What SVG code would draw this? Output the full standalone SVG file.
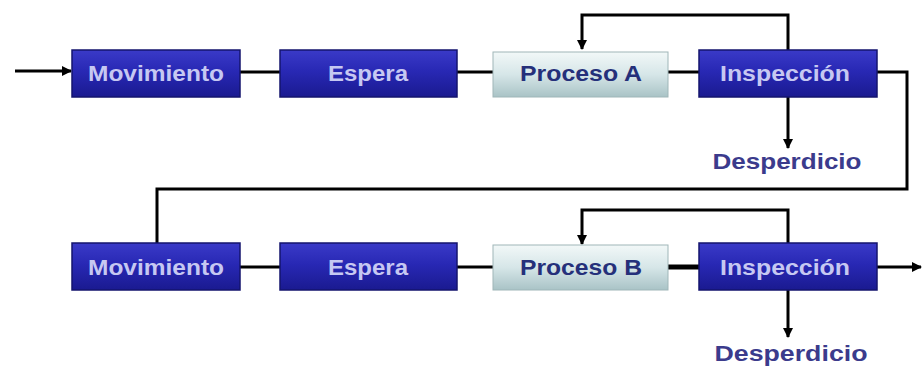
<svg xmlns="http://www.w3.org/2000/svg" width="922" height="370" viewBox="0 0 922 370">
<defs>
<linearGradient id="blue" x1="0" y1="0" x2="0" y2="1">
<stop offset="0" stop-color="#3a3ac8"/>
<stop offset="0.45" stop-color="#2828b4"/>
<stop offset="1" stop-color="#1a1a90"/>
</linearGradient>
<linearGradient id="light" x1="0" y1="0" x2="0" y2="1">
<stop offset="0" stop-color="#f2f8f8"/>
<stop offset="0.5" stop-color="#d6e6e8"/>
<stop offset="1" stop-color="#a9c3c6"/>
</linearGradient>
<marker id="arr" viewBox="0 0 10 10" refX="9" refY="5" markerWidth="10" markerHeight="10" markerUnits="userSpaceOnUse" orient="auto">
<path d="M0,0 L10,5 L0,10 z" fill="#000"/>
</marker>
<style>
.bb{fill:url(#blue);stroke:#14146e;stroke-width:1.5}
.lb{fill:url(#light);stroke:#9fb6b8;stroke-width:1}
.tb{font-family:"Liberation Sans",Arial,sans-serif;font-weight:bold;font-size:22px;fill:#c6c8f2;text-anchor:middle}
.tl{font-family:"Liberation Sans",Arial,sans-serif;font-weight:bold;font-size:22px;fill:#25307a;text-anchor:middle}
.tw{font-family:"Liberation Sans",Arial,sans-serif;font-weight:bold;font-size:22px;fill:#3b3b8c;text-anchor:middle}
.ln{fill:none;stroke:#000;stroke-width:3}
</style>
</defs>
<g id="connectors">
<path class="ln" d="M15,71 H71" marker-end="url(#arr)"/>
<path class="ln" d="M240,72 H280"/>
<path class="ln" d="M457,72 H493"/>
<path class="ln" d="M668,72 H699"/>
<path class="ln" d="M788,50 V15 H582 V49" marker-end="url(#arr)"/>
<path class="ln" d="M788,97 V148" marker-end="url(#arr)"/>
<path class="ln" d="M877,72 H907 V189 H157 V243"/>
<path class="ln" d="M240,267 H280"/>
<path class="ln" d="M457,267 H493"/>
<path class="ln" d="M668,267 H699" style="stroke-width:5"/>
<path class="ln" d="M788,243 V210 H582 V244" marker-end="url(#arr)"/>
<path class="ln" d="M877,267 H921" marker-end="url(#arr)"/>
<path class="ln" d="M788,290 V337" marker-end="url(#arr)"/>
</g>
<g id="mov1"><rect class="bb" x="72" y="50" width="168" height="47"/><text class="tb" x="156" y="81" textLength="136" lengthAdjust="spacingAndGlyphs">Movimiento</text></g>
<g id="esp1"><rect class="bb" x="280" y="50" width="177" height="47"/><text class="tb" x="368" y="81" textLength="80" lengthAdjust="spacingAndGlyphs">Espera</text></g>
<g id="procA"><rect class="lb" x="493" y="52" width="175" height="45"/><text class="tl" x="581" y="81" textLength="122" lengthAdjust="spacingAndGlyphs">Proceso A</text></g>
<g id="insp1"><rect class="bb" x="699" y="50" width="178" height="47"/><text class="tb" x="785" y="81" textLength="130" lengthAdjust="spacingAndGlyphs">Inspección</text></g>
<g id="desp1"><text class="tw" x="787" y="169" textLength="149" lengthAdjust="spacingAndGlyphs">Desperdicio</text></g>
<g id="mov2"><rect class="bb" x="72" y="243" width="168" height="47"/><text class="tb" x="156" y="275" textLength="136" lengthAdjust="spacingAndGlyphs">Movimiento</text></g>
<g id="esp2"><rect class="bb" x="280" y="243" width="177" height="47"/><text class="tb" x="368" y="275" textLength="80" lengthAdjust="spacingAndGlyphs">Espera</text></g>
<g id="procB"><rect class="lb" x="493" y="245" width="175" height="45"/><text class="tl" x="581" y="275" textLength="122" lengthAdjust="spacingAndGlyphs">Proceso B</text></g>
<g id="insp2"><rect class="bb" x="699" y="243" width="178" height="47"/><text class="tb" x="785" y="275" textLength="130" lengthAdjust="spacingAndGlyphs">Inspección</text></g>
<g id="desp2"><text class="tw" x="791" y="361" textLength="153" lengthAdjust="spacingAndGlyphs">Desperdicio</text></g>
</svg>
